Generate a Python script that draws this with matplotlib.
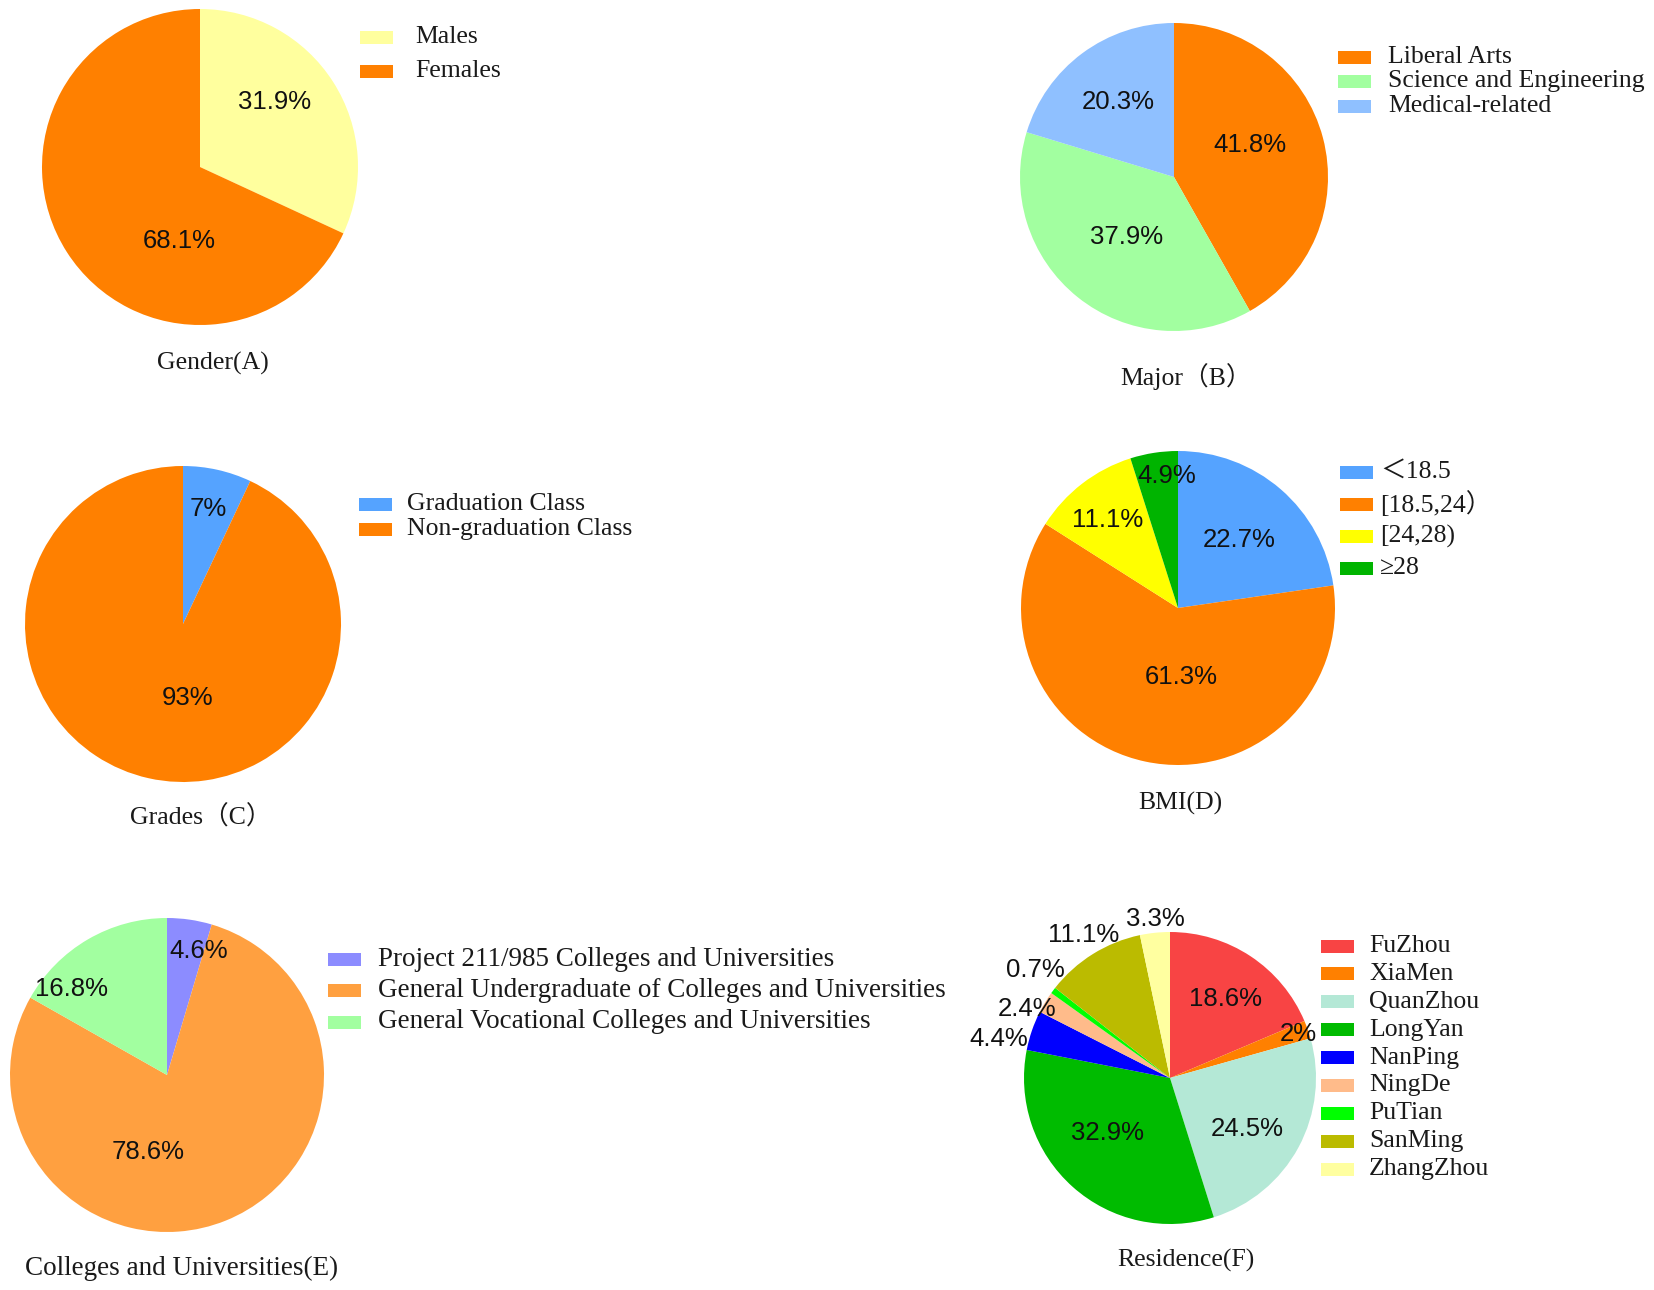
import matplotlib
matplotlib.use("Agg")
import matplotlib.pyplot as plt
from matplotlib.patches import Rectangle

# ---------------------------------------------------------------------------
# data
# ---------------------------------------------------------------------------
gender_labels = ["Males", "Females"]
gender_values = [31.9, 68.1]

major_labels = ["Liberal Arts", "Science and Engineering", "Medical-related"]
major_values = [41.8, 37.9, 20.3]

grade_labels = ["Graduation Class", "Non-graduation Class"]
grade_values = [7, 93]

bmi_labels = ["＜18.5", "[18.5,24）", "[24,28)", "≥28"]
bmi_values = [22.7, 61.3, 11.1, 4.9]

college_labels = ["Project 211/985 Colleges and Universities",
                  "General Undergraduate of Colleges and Universities",
                  "General Vocational Colleges and Universities"]
college_values = [4.6, 78.6, 16.8]

residence_labels = ["FuZhou", "XiaMen", "QuanZhou", "LongYan", "NanPing",
                    "NingDe", "PuTian", "SanMing", "ZhangZhou"]
residence_values = [18.6, 2, 24.5, 32.9, 4.4, 2.4, 0.7, 11.1, 3.3]

# ---------------------------------------------------------------------------
# style / layout (pixels of a 1654 x 1290 canvas)
# ---------------------------------------------------------------------------
W, H = 1654, 1290
SERIF = ["Liberation Serif", "Noto Sans CJK SC", "DejaVu Sans"]
SANS = ["Liberation Sans", "DejaVu Sans"]

panels = [
    dict(values=gender_values, labels=gender_labels, title="Gender(A)",
         colors=["#FFFF9E", "#FF8000"],
         center=(200, 167), r=158, title_xy=(213, 363), fs=18.5,
         leg=(360, 415, 37, 34),
         offs=[(0.47, 0.41), (-0.13, -0.47)]),
    dict(values=major_values, labels=major_labels, title="Major（B）",
         colors=["#FF8000", "#A2FFA0", "#8FC0FF"],
         center=(1174, 177), r=154, title_xy=(1186, 377), fs=18.5,
         leg=(1338, 1388, 57, 24.5),
         offs=[(0.49, 0.21), (-0.31, -0.39), (-0.36, 0.49)]),
    dict(values=grade_values, labels=grade_labels, title="Grades（C）",
         colors=["#55A3FF", "#FF8000"],
         center=(183, 624), r=158, title_xy=(201, 817), fs=18.5,
         leg=(359, 407, 504, 25.5),
         offs=[(0.16, 0.73), (0.03, -0.47)]),
    dict(values=bmi_values, labels=bmi_labels, title="BMI(D)",
         colors=["#55A3FF", "#FF8000", "#FFFF00", "#00B400"],
         center=(1178, 608), r=157, title_xy=(1180, 803), fs=18.5,
         leg=(1340, 1380, 472, 32),
         offs=[(0.39, 0.43), (0.02, -0.44), (-0.45, 0.56), (-0.07, 0.84)]),
    dict(values=college_values, labels=college_labels,
         title="Colleges and Universities(E)",
         colors=["#8C8CFF", "#FFA040", "#A2FFA0"],
         center=(167, 1075), r=157, title_xy=(182, 1268), fs=19.5,
         leg=(328, 378, 959, 31.5),
         offs=[(0.20, 0.79), (-0.12, -0.49), (-0.61, 0.55)]),
    dict(values=residence_values, labels=residence_labels,
         title="Residence(F)",
         colors=["#F84444", "#FF8000", "#B4E8D6", "#00BB00", "#0000FF",
                 "#FFBB8A", "#00FF00", "#BBBB00", "#FFFFA0"],
         center=(1170, 1078), r=146, title_xy=(1186, 1260), fs=18.5,
         leg=(1321, 1369, 946, 27.9),
         offs=[(0.38, 0.54), (0.88, 0.30), (0.53, -0.35), (-0.43, -0.38),
               (-1.17, 0.27), (-0.98, 0.47), (-0.92, 0.74), (-0.59, 0.98),
               (-0.10, 1.09)]),
]

fig = plt.figure(figsize=(W / 100, H / 100), dpi=100)
fig.patch.set_facecolor("white")


def fx(x):
    return x / W


def fy(y):
    return 1 - y / H


for p in panels:
    cx, cy = p["center"]
    r = p["r"]
    ax = fig.add_axes([fx(cx - r), fy(cy + r), 2 * r / W, 2 * r / H])
    ax.pie(p["values"], colors=p["colors"], startangle=90, counterclock=False,
           radius=1, wedgeprops=dict(linewidth=0))
    ax.set_xlim(-1, 1)
    ax.set_ylim(-1, 1)
    ax.set_aspect("auto")
    ax.axis("off")

    # percentage labels
    for v, (dx, dy) in zip(p["values"], p["offs"]):
        ax.text(dx, dy, f"{v:g}%", ha="center", va="center", fontsize=18.5,
                family=SANS, color="#111111", clip_on=False)

    # title under the pie
    tx, ty = p["title_xy"]
    fig.text(fx(tx), fy(ty), p["title"], ha="center", va="center",
             fontsize=p["fs"], family=SERIF, color="#1a1a1a")

    # legend (patch + label per category)
    px, lx, y0, dy = p["leg"]
    for i, (lab, col) in enumerate(zip(p["labels"], p["colors"])):
        yy = y0 + i * dy
        fig.patches.append(Rectangle((fx(px), fy(yy + 6.5)), 33 / W, 13 / H,
                                     transform=fig.transFigure,
                                     facecolor=col, edgecolor="none"))
        fig.text(fx(lx), fy(yy), lab, ha="left", va="center",
                 fontsize=p["fs"], family=SERIF, color="#1a1a1a")

fig.savefig("out.png", dpi=100, facecolor="white")
